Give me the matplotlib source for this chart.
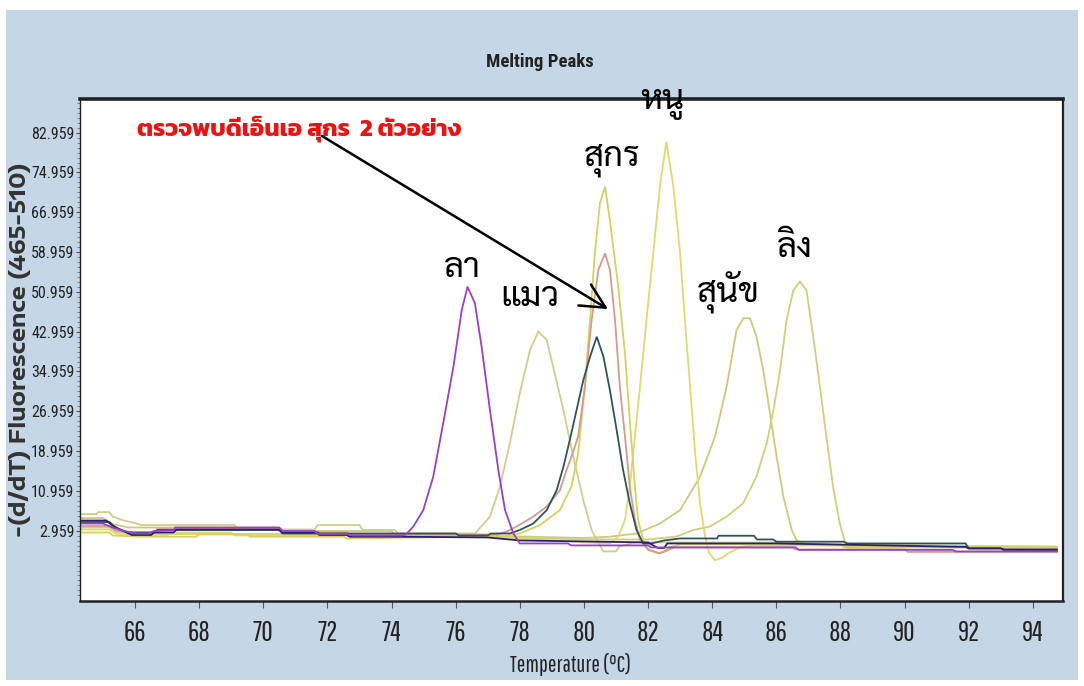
import matplotlib
matplotlib.use("Agg")
import matplotlib.pyplot as plt
import matplotlib.font_manager as fm
from matplotlib.patches import Rectangle
import numpy as np

# ---------------- melting-peak curves: temperature (°C) and -(d/dT) fluorescence ----------------
temp_donkey = [64.3, 65.0, 65.3, 65.6, 66.0, 66.4, 66.6, 67.2, 67.25, 70.5, 70.6, 71.6, 71.7, 72.6, 72.8,
               74.3, 74.45, 74.68, 74.99, 75.30, 75.61, 75.93, 76.19, 76.37, 76.60, 76.81, 77.07, 77.33,
               77.54, 77.80, 78.00, 79.50, 79.60, 82.00, 82.10, 86.60, 86.70, 91.50, 91.60, 94.75]
val_donkey = [4.4, 4.4, 3.6, 3.0, 2.4, 2.4, 2.9, 3.0, 3.6, 3.6, 2.9, 2.9, 2.3, 2.3, 2.0,
              2.0, 2.2, 3.8, 7.1, 13.8, 24.5, 35.9, 47.3, 52.0, 48.7, 39.9, 27.2, 15.2,
              7.1, 2.4, 0.4, 0.4, 0.0, 0.0, -0.4, -0.4, -0.9, -0.9, -1.2, -1.2]

temp_cat = [64.3, 64.8, 64.85, 65.2, 65.3, 65.6, 66.0, 66.2, 69.1, 69.2, 70.5, 70.6, 71.6, 71.7, 73.0,
            73.1, 74.1, 74.2, 76.6, 76.70, 77.07, 77.38, 77.69, 78.00, 78.32, 78.58, 78.84, 79.04,
            79.36, 79.67, 79.98, 80.24, 80.50, 80.60, 81.00, 81.10, 81.60, 86.60, 86.70, 88.10, 88.20, 94.75]
val_cat = [6.3, 6.3, 6.7, 6.7, 5.8, 5.1, 4.5, 4.1, 4.1, 3.4, 3.4, 3.2, 3.2, 4.1, 4.1,
           3.1, 3.1, 2.4, 2.4, 3.1, 5.8, 11.8, 20.5, 30.6, 39.3, 43.0, 41.3, 35.9,
           27.2, 17.8, 9.1, 3.1, 0.0, -1.2, -1.2, -0.2, 0.6, 0.6, 0.1, 0.1, -0.4, -0.4]

temp_pig_a = [64.3, 65.2, 65.3, 66.2, 67.9, 68.0, 69.5, 69.6, 72.5, 72.6, 77.5, 78.0, 78.63, 79.25,
              79.61, 79.82, 80.03, 80.19, 80.34, 80.50, 80.66, 80.81, 81.07, 81.28, 81.43, 81.59,
              81.69, 81.85, 82.00, 82.30, 82.50, 82.70, 83.00, 88.00, 88.10, 94.75]
val_pig_a = [2.6, 2.6, 2.0, 1.75, 1.75, 2.2, 2.2, 1.75, 1.75, 1.4, 1.8, 2.4, 4.1, 7.1,
             11.8, 18.5, 31.9, 45.3, 58.7, 68.8, 72.1, 65.4, 52.0, 38.6, 25.2, 11.8,
             5.1, 1.1, -0.9, -1.6, -1.2, -0.3, 0.2, 0.2, -0.3, -0.3]

temp_pig_b = [64.3, 65.2, 65.4, 66.0, 66.6, 66.7, 70.5, 70.6, 72.6, 72.7, 77.30, 77.59, 77.90, 78.42,
              78.84, 79.25, 79.46, 79.62, 79.82, 80.03, 80.24, 80.45, 80.66, 80.81, 80.97, 81.12,
              81.28, 81.43, 81.59, 81.75, 82.00, 82.37, 82.60, 82.80, 86.50, 86.60, 90.00, 90.10, 94.75]
val_pig_b = [3.9, 3.9, 3.0, 2.6, 2.6, 3.3, 3.3, 2.6, 2.6, 2.2, 2.2, 2.8, 3.8, 5.8,
             7.8, 11.1, 15.2, 18.0, 21.9, 31.9, 45.3, 55.4, 58.7, 55.4, 45.3, 31.9,
             21.9, 11.8, 5.1, 1.1, -0.8, -1.6, -1.0, -0.4, -0.4, -0.8, -0.8, -1.3, -1.3]

temp_pig_c = [64.3, 65.2, 65.4, 65.8, 66.6, 66.7, 70.5, 70.6, 76.0, 76.1, 77.0, 77.1, 77.69, 78.00,
              78.42, 78.84, 79.15, 79.36, 79.56, 79.77, 79.98, 80.19, 80.40, 80.61, 80.81, 81.02,
              81.22, 81.43, 81.64, 81.85, 82.10, 82.50, 83.00, 84.15, 84.20, 85.30, 85.40, 85.90,
              86.00, 88.10, 88.20, 91.90, 92.00, 93.00, 93.10, 94.75]
val_pig_c = [4.7, 4.7, 3.5, 2.6, 2.6, 3.1, 3.1, 2.4, 2.4, 2.0, 2.0, 2.4, 2.4, 3.1,
             4.4, 7.1, 11.1, 15.8, 21.2, 27.2, 33.2, 37.9, 41.95, 37.9, 31.2, 23.2,
             15.2, 8.5, 3.1, 0.4, 0.4, 1.0, 1.4, 1.4, 1.95, 1.95, 1.2, 1.2,
             0.75, 0.75, 0.4, 0.4, -0.6, -0.6, -1.0, -1.0]

temp_rat = [64.3, 65.2, 65.4, 66.0, 67.0, 67.1, 69.0, 69.1, 74.0, 77.0, 78.0, 79.0, 80.0, 80.81,
            81.07, 81.28, 81.43, 81.59, 81.75, 81.95, 82.16, 82.37, 82.57, 82.79, 83.00, 83.15,
            83.31, 83.47, 83.62, 83.78, 83.90, 84.09, 84.30, 84.50, 84.90, 85.30, 94.75]
val_rat = [3.2, 3.2, 2.4, 2.0, 2.0, 2.6, 2.6, 2.0, 2.0, 1.8, 1.4, 1.1, 0.6, 0.4,
           1.8, 5.1, 11.8, 21.9, 31.9, 45.3, 58.7, 72.1, 81.15, 72.1, 58.7, 45.3,
           31.9, 18.5, 8.5, 1.8, -1.5, -2.97, -2.5, -1.6, -0.3, 0.0, -0.2]

temp_dog = [64.3, 65.0, 65.3, 65.8, 70.4, 70.5, 74.0, 74.1, 78.0, 80.0, 80.81, 81.64, 82.37, 83.00,
            83.62, 84.09, 84.45, 84.76, 84.97, 85.18, 85.38, 85.59, 85.80, 86.01, 86.22, 86.48,
            86.63, 86.80, 88.10, 88.20, 94.75]
val_dog = [5.5, 5.5, 4.3, 3.6, 3.6, 2.9, 2.9, 2.2, 1.8, 1.5, 1.75, 2.4, 4.4, 7.1,
           13.8, 21.9, 31.9, 43.3, 45.65, 45.65, 42.0, 35.3, 26.6, 17.8, 9.8, 3.1,
           1.1, 0.4, 0.1, -0.4, -0.4]

temp_monkey = [64.3, 65.2, 65.4, 66.0, 74.0, 78.0, 80.0, 82.0, 82.89, 83.41, 83.93, 84.45, 84.97,
               85.38, 85.70, 85.91, 86.12, 86.32, 86.53, 86.74, 86.94, 87.15, 87.36, 87.56, 87.77,
               87.98, 88.14, 88.30, 94.75]
val_monkey = [3.6, 3.6, 2.8, 2.3, 2.3, 1.6, 1.2, 1.2, 1.8, 3.1, 3.8, 5.8, 8.5,
              13.8, 20.5, 27.2, 35.3, 45.3, 51.3, 53.0, 51.3, 42.0, 31.9, 21.9, 11.8,
              4.4, 0.75, 0.2, -0.3]

temp_blank = [64.3, 65.1, 65.3, 65.6, 65.9, 66.5, 66.6, 67.2, 67.3, 70.5, 70.6, 71.7, 71.75, 72.6,
              72.7, 74.3, 77.0, 78.0, 82.0, 82.3, 82.5, 82.6, 86.0, 91.9, 92.0, 93.0, 93.1, 94.75]
val_blank = [5.0, 5.0, 4.0, 3.0, 2.1, 2.1, 2.6, 2.6, 3.2, 3.2, 2.6, 2.6, 2.1, 2.1,
             1.75, 1.75, 1.6, 1.0, 0.6, -0.5, -0.5, 0.4, 0.4, -0.3, -0.6, -0.6, -0.8, -0.8]

x_ticks = [66, 68, 70, 72, 74, 76, 78, 80, 82, 84, 86, 88, 90, 92, 94]
y_ticks = [2.959, 10.959, 18.959, 26.959, 34.959, 42.959, 50.959, 58.959, 66.959, 74.959, 82.959]

peak_labels = ["ลา", "แมว", "สุกร", "หนู", "สุนัข", "ลิง"]
peak_label_pos = [(76.2, 55.8), (78.32, 49.9), (80.87, 77.5), (82.46, 89.0), (84.49, 50.9), (86.58, 59.8)]
note_text = "ตรวจพบดีเอ็นเอ สุกร  2 ตัวอย่าง"


# ---------------- fonts ----------------
HAVE = {f.name for f in fm.fontManager.ttflist}


def first_of(names, fallback="DejaVu Sans"):
    for n in names:
        if n in HAVE:
            return [n, "DejaVu Sans"]
    return [fallback]


thai_label_family = first_of(["Sarabun", "Noto Sans Thai Looped", "Noto Sans Thai"])
thai_note_family = first_of(["Kanit", "Sarabun", "Noto Sans Thai"])
xtick_family = first_of(["Pathway Gothic One", "Sofia Sans Extra Condensed", "Roboto Condensed"])
ytick_family = first_of(["Roboto Condensed", "Archivo Narrow", "PT Sans Narrow"])
title_family = first_of(["Roboto Condensed", "Archivo Narrow"])
ylabel_family = first_of(["Encode Sans Expanded", "Zalando Sans Expanded"])

# ---------------- figure ----------------
W, H = 1084, 686
fig = plt.figure(figsize=(W / 100, H / 100), dpi=100)
fig.patch.set_facecolor("white")
fig.patches.append(Rectangle((6 / W, 1 - 680 / H), (1078 - 6) / W, (680 - 10) / H,
                             transform=fig.transFigure, facecolor="#c5d6e7", edgecolor="none", zorder=-10))

ax = fig.add_axes([80 / W, 1 - 601 / H, (1063 - 80) / W, (601 - 99) / H])
ax.set_facecolor("white")

curves = [
    (temp_cat, val_cat, "#cfcf8a"),
    (temp_dog, val_dog, "#cccc78"),
    (temp_monkey, val_monkey, "#d0d07a"),
    (temp_rat, val_rat, "#dcdc6c"),
    (temp_pig_a, val_pig_a, "#d6d35a"),
    (temp_pig_b, val_pig_b, "#d9998c"),
    (temp_pig_c, val_pig_c, "#2d5656"),
    (temp_blank, val_blank, "#2a1f78"),
    (temp_donkey, val_donkey, "#9a40c8"),
]
for t, v, c in curves:
    ax.plot(t, v, color=c, lw=1.3, solid_joinstyle="miter")

ax.set_xlim(64.285, 94.94)
ax.set_ylim(-11.17, 89.73)

ax.set_xticks(x_ticks)
ax.set_xticklabels([str(t) for t in x_ticks])
ax.set_yticks(y_ticks)
ax.set_yticklabels([f"{v:.3f}" for v in y_ticks])
ax.set_yticks(np.arange(-10.041, 89.0, 1.0), minor=True)
ax.tick_params(axis="x", direction="out", length=5, width=0.8, color="#555555", pad=9,
               labelsize=20, labelcolor="#222222")
ax.tick_params(axis="y", which="major", direction="out", length=3, width=0.8, color="#555555",
               pad=1, labelsize=11.5, labelcolor="#222222")
ax.tick_params(axis="y", which="minor", direction="out", length=2, width=0.6, color="#777777")
for lab in ax.get_xticklabels():
    lab.set_family(xtick_family)
for lab in ax.get_yticklabels():
    lab.set_family(ytick_family)

for side, lw in (("top", 2.6), ("right", 1.6), ("bottom", 1.8), ("left", 1.0)):
    ax.spines[side].set_linewidth(lw)
    ax.spines[side].set_color("#222222")

fig.text(540 / W, 1 - 62 / H, "Melting Peaks", ha="center", va="center", fontsize=13.5,
         fontweight="bold", family=title_family, color="#222222")
fig.text(570 / W, 1 - 664 / H, "Temperature (°C)", ha="center", va="center", fontsize=16.5,
         family=xtick_family, color="#222222")
fig.text(20 / W, 1 - 350 / H, "-(d/dT) Fluorescence (465-510)", ha="center", va="center",
         rotation=90, fontsize=16, fontweight="bold", family=ylabel_family, color="#333333")

for label, (tx, ty) in zip(peak_labels, peak_label_pos):
    ax.text(tx, ty, label, ha="center", va="center", fontsize=25, family=thai_label_family,
            color="black", clip_on=False)

ax.text(66.06, 83.7, note_text, ha="left", va="center", fontsize=17.5, fontweight="bold",
        family=thai_note_family, color="#ee1111")
ax.annotate("", xy=(80.75, 47.5), xytext=(71.83, 82.3),
            arrowprops=dict(arrowstyle="->,head_length=0.8,head_width=0.4", lw=1.8,
                            color="black", mutation_scale=22, shrinkA=0, shrinkB=0))

fig.savefig("out.png", dpi=100, facecolor=fig.get_facecolor())
